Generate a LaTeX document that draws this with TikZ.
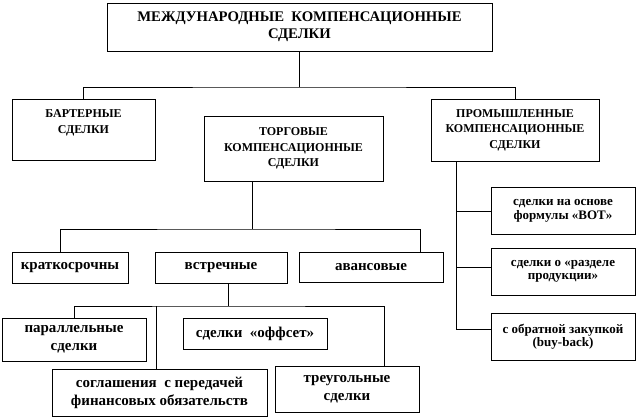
\documentclass[tikz,border=0pt]{standalone}
\usepackage{fontspec}
\setmainfont{Liberation Serif}
\usetikzlibrary{positioning,calc}

\begin{document}
\begin{tikzpicture}[x=1pt, y=-1pt, line width=0.9pt,
  box/.style={draw, align=center, inner sep=0pt},
  big/.style={box, font=\bfseries\fontsize{14.7}{17}\selectfont},
  caps/.style={box, font=\bfseries\fontsize{12}{15.5}\selectfont},
  low/.style={box, font=\bfseries\fontsize{15}{18}\selectfont},
  side/.style={box, font=\bfseries\fontsize{13}{13.5}\selectfont, minimum width=144pt, minimum height=47pt}]

\useasboundingbox (0,0) rectangle (639,419);

\node[big, minimum width=385pt, minimum height=48pt]  (Top)   at (299.5,27)   {МЕЖДУНАРОДНЫЕ~ КОМПЕНСАЦИОННЫЕ\\СДЕЛКИ};

\node[caps, minimum width=143pt, minimum height=61pt] (Bart)  at (83.5,129.5)  {БАРТЕРНЫЕ\\СДЕЛКИ\\ \mbox{}};
\node[caps, minimum width=179pt, minimum height=65pt] (Torg)  at (293.5,148.5) {ТОРГОВЫЕ\\КОМПЕНСАЦИОННЫЕ\\СДЕЛКИ};
\node[caps, minimum width=168pt, minimum height=62pt] (Prom)  at (515,130)     {ПРОМЫШЛЕННЫЕ\\КОМПЕНСАЦИОННЫЕ\\СДЕЛКИ};

\node[low, minimum width=116pt, minimum height=31pt]  (Krat)  at (70,267.5)    {краткосрочны};
\node[low, minimum width=132pt, minimum height=31pt]  (Vstr)  at (221,267.5)   {встречные};
\node[low, minimum width=144pt, minimum height=30pt]  (Avans) at (371,267)     {авансовые};

\node[low, minimum width=144pt, minimum height=43pt]  (Par)   at (74,339.5)    {параллельные\\сделки};
\node[low, minimum width=144pt, minimum height=31pt]  (Off)   at (255,333.5)   {сделки~ «оффсет»};
\node[low, minimum width=215pt, minimum height=47pt]  (Sogl)  at (159.5,392.5) {соглашения~ с передачей\\финансовых обязательств};
\node[low, minimum width=144pt, minimum height=46pt]  (Treug) at (347,389)     {треугольные\\сделки};

\node[side] (BOT)  at (563,211)   {сделки на основе\\формулы «BOT»};
\node[side] (Razd) at (563,271.5) {сделки о «разделе\\продукции»};
\node[side] (Buy)  at (563,336.5) {с обратной закупкой\\(buy-back)};

% junctions
\coordinate (J1) at (299.5,87);
\coordinate (J2) at (252,229);
\coordinate (J3) at (228,306);
\coordinate (J4) at ([xshift=-59pt]Prom.south);
\coordinate (R)  at ([yshift=4.5pt]Razd.west);
\coordinate (B)  at ([yshift=7.5pt]Buy.west);

\draw (Top) -- (J1);
\draw (Bart) |- (J1) -| (Prom);

\draw (Torg.south -| J2) -- (J2);
\draw ([xshift=-10pt]Krat.north) |- (J2) -| ([xshift=49pt]Avans.north);

\draw (Vstr.south -| J3) -- (J3);
\draw (Par) |- (J3) -| ([xshift=37pt]Treug.north);
\draw ([xshift=-3.5pt]Sogl.north) -- ([xshift=-3.5pt]Sogl.north |- J3);

\draw (J4) |- (B);
\draw (BOT.west) -- (BOT.west -| J4);
\draw (R) -- (R -| J4);

\end{tikzpicture}
\end{document}
